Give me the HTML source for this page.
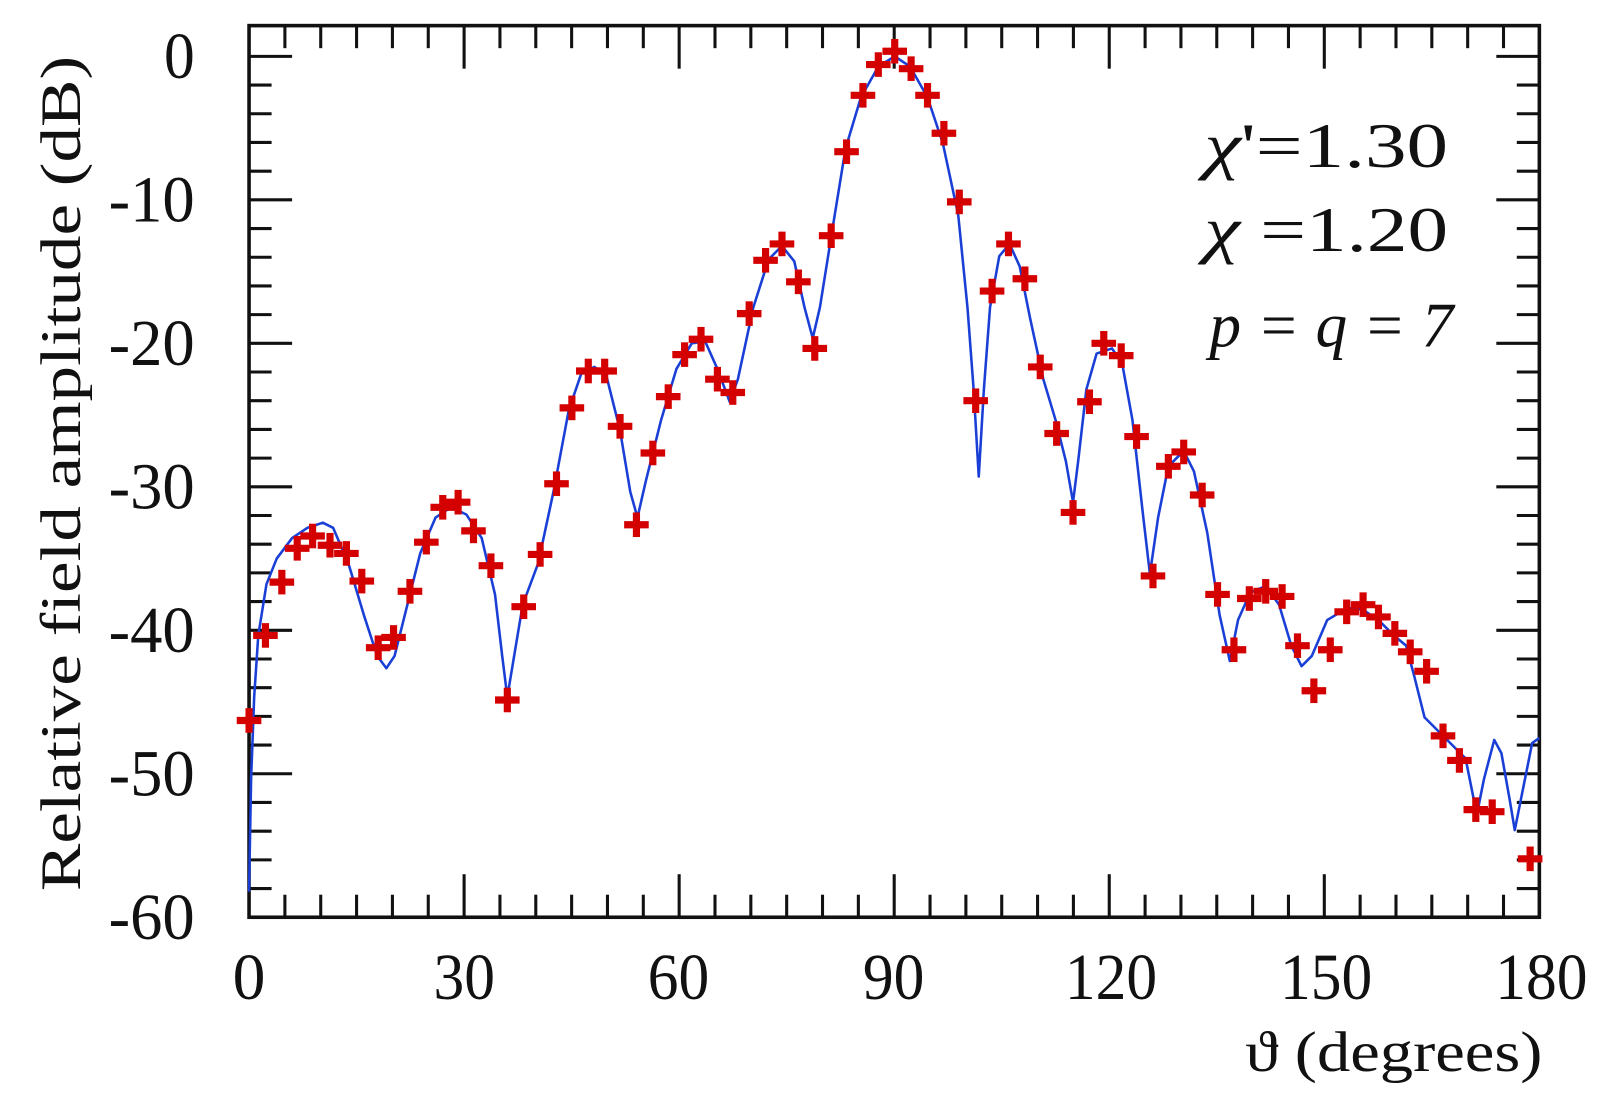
<!DOCTYPE html>
<html><head><meta charset="utf-8"><style>html,body{margin:0;padding:0;background:#fff}svg{display:block}</style></head>
<body>
<svg xmlns="http://www.w3.org/2000/svg" width="1607" height="1113" viewBox="0 0 1568 1086">
<rect x="0" y="0" width="1568" height="1086" fill="#fff"/>
<g id="ticks" stroke="#111" stroke-width="3"></g>
<rect x="243" y="25" width="1259" height="870" fill="none" stroke="#111" stroke-width="3.5"/>
<g font-family="Liberation Serif, serif" font-size="64" fill="#111">
<text x="243" y="975" text-anchor="middle">0</text>
<text x="453" y="975" text-anchor="middle" textLength="60" lengthAdjust="spacingAndGlyphs">30</text>
<text x="662" y="975" text-anchor="middle" textLength="60" lengthAdjust="spacingAndGlyphs">60</text>
<text x="872" y="975" text-anchor="middle" textLength="60" lengthAdjust="spacingAndGlyphs">90</text>
<text x="1084" y="975" text-anchor="middle" textLength="90" lengthAdjust="spacingAndGlyphs">120</text>
<text x="1294" y="975" text-anchor="middle" textLength="90" lengthAdjust="spacingAndGlyphs">150</text>
<text x="1504" y="975" text-anchor="middle" textLength="90" lengthAdjust="spacingAndGlyphs">180</text>
<text x="190" y="76" text-anchor="end" textLength="30" lengthAdjust="spacingAndGlyphs">0</text>
<text x="190" y="216" text-anchor="end" textLength="84" lengthAdjust="spacingAndGlyphs">-10</text>
<text x="190" y="356" text-anchor="end" textLength="84" lengthAdjust="spacingAndGlyphs">-20</text>
<text x="190" y="496" text-anchor="end" textLength="84" lengthAdjust="spacingAndGlyphs">-30</text>
<text x="190" y="636" text-anchor="end" textLength="84" lengthAdjust="spacingAndGlyphs">-40</text>
<text x="190" y="776" text-anchor="end" textLength="84" lengthAdjust="spacingAndGlyphs">-50</text>
<text x="190" y="916" text-anchor="end" textLength="84" lengthAdjust="spacingAndGlyphs">-60</text>
<text transform="translate(78,462) rotate(-90)" text-anchor="middle" font-size="56" textLength="815" lengthAdjust="spacingAndGlyphs">Relative field amplitude (dB)</text>
<text x="1505" y="1045" text-anchor="end" font-size="56" textLength="290" lengthAdjust="spacingAndGlyphs">ϑ (degrees)</text>
<text x="1175" y="163" font-size="62" textLength="238" lengthAdjust="spacingAndGlyphs"><tspan font-style="italic">χ</tspan>'=1.30</text>
<text x="1175" y="245" font-size="62" textLength="238" lengthAdjust="spacingAndGlyphs"><tspan font-style="italic">χ</tspan> =1.20</text>
<text x="1180" y="338" font-size="62" font-style="italic" textLength="238" lengthAdjust="spacingAndGlyphs">p = q = 7</text>
</g>
<polyline fill="none" stroke="#1a3fd6" stroke-width="2.5" stroke-linejoin="round" points="243,870 245,760 248,680 252,620 260,570 270,545 285,525 300,515 315,510 325,515 340,550 355,600 368,640 377,652 385,640 395,600 410,540 425,505 440,495 455,502 470,525 483,580 490,640 495,680 500,650 510,590 525,550 540,480 555,400 567,365 580,358 592,368 605,420 615,480 622,505 630,470 645,410 660,360 675,335 688,333 700,360 712,392 720,370 735,300 750,253 763,240 775,255 785,300 793,330 800,300 812,225 825,145 840,95 857,65 873,55 888,65 905,95 920,140 935,210 944,300 950,380 955,465 960,380 966,300 975,250 985,238 995,260 1005,310 1018,370 1030,410 1040,450 1047,490 1052,450 1060,380 1070,345 1085,340 1095,355 1105,410 1115,500 1122,560 1130,505 1140,455 1155,440 1165,460 1178,520 1190,600 1200,645 1208,605 1220,578 1235,572 1248,590 1260,630 1270,650 1280,640 1295,605 1315,593 1330,595 1345,605 1360,620 1372,630 1380,660 1390,700 1410,720 1420,730 1430,740 1438,780 1442,790 1448,760 1458,722 1465,735 1473,780 1478,810 1484,780 1495,725 1502,720"/>
<g id="marks" stroke="#d40000" stroke-width="7"></g>
<script>
(function(){
var ns="http://www.w3.org/2000/svg";
function L(g,x1,y1,x2,y2){var l=document.createElementNS(ns,"line");l.setAttribute("x1",x1);l.setAttribute("y1",y1);l.setAttribute("x2",x2);l.setAttribute("y2",y2);g.appendChild(l);}
var t=document.getElementById("ticks");
var x0=243,x1=1502,yt=25,yb=895;
for(var d=5;d<180;d+=5){var x=x0+d*(x1-x0)/180;var len=(d%30==0)?42:22;L(t,x,yb,x,yb-len);L(t,x,yt,x,yt+len);}
for(var db=0;db>-60;db-=2){var y=55-db*14;var len=(db%10==0)?42:22;L(t,x0,y,x0+len,y);L(t,x1,y,x1-len,y);}
var m=document.getElementById("marks");
var P=[[243,703],[259,620],[275,568],[290,535],[305,523],[322,532],[338,540],[353,567],[369,632],[384,622],[400,577],[416,529],[432,495],[447,490],[462,518],[479,552],[495,683],[511,592],[527,541],[543,472],[558,398],[574,362],[590,362],[605,416],[621,512],[637,442],[652,387],[668,346],[684,331],[700,370],[715,383],[731,306],[747,254],[763,238],[779,275],[795,340],[811,230],[826,148],[842,93],[857,63],[873,50],[889,67],[905,93],[921,130],[936,197],[952,391],[968,284],[984,238],[1000,272],[1015,358],[1031,423],[1047,500],[1063,392],[1077,335],[1094,347],[1109,426],[1125,562],[1140,455],[1155,441],[1173,483],[1188,580],[1204,634],[1219,584],[1235,577],[1251,582],[1266,630],[1282,674],[1298,634],[1314,597],[1330,590],[1345,602],[1361,618],[1376,636],[1392,655],[1408,718],[1424,742],[1440,790],[1456,792],[1493,838]];
P.forEach(function(p){L(m,p[0]-12,p[1],p[0]+12,p[1]);L(m,p[0],p[1]-12,p[0],p[1]+12);});
})();
</script>
</svg>
</body></html>
